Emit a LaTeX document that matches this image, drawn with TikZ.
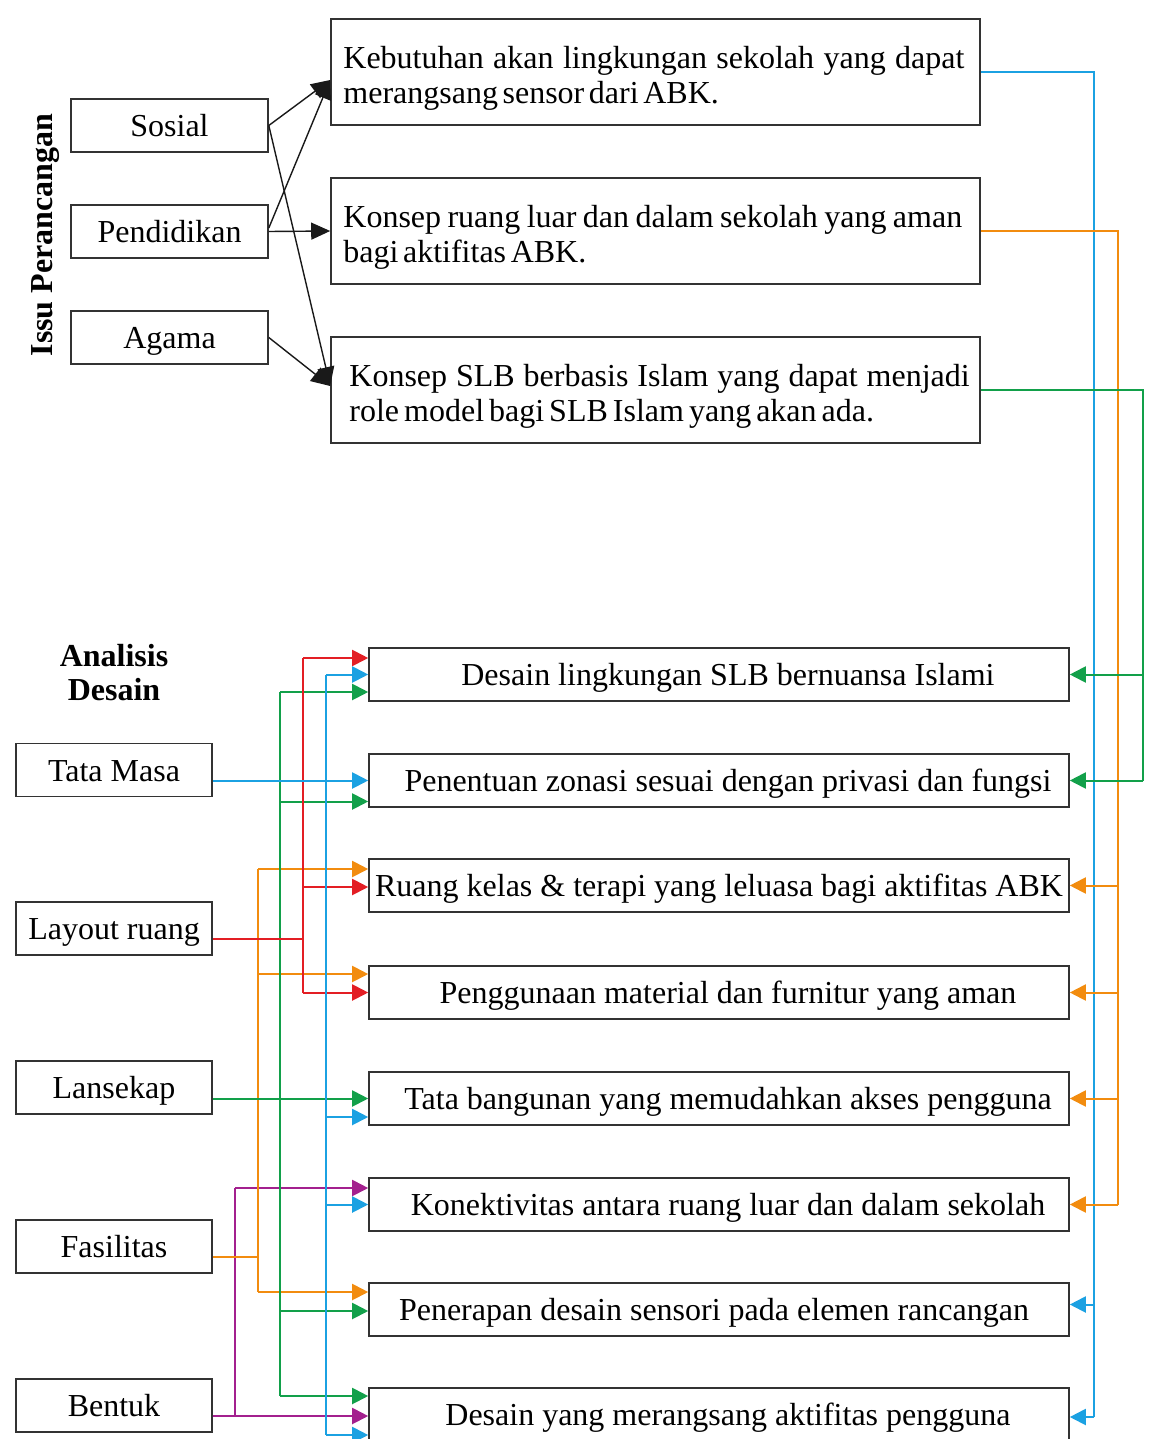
\documentclass[tikz,border=0pt]{standalone}
\usepackage{fontspec}
\setmainfont{Liberation Serif}
\usetikzlibrary{arrows.meta,calc}
\definecolor{cblue}{HTML}{1BA1E2}
\definecolor{corange}{HTML}{F28C0F}
\definecolor{cgreen}{HTML}{12A04A}
\definecolor{cred}{HTML}{E31E24}
\definecolor{cpurple}{HTML}{A3208E}
\definecolor{bord}{HTML}{333333}
\newcommand\wsp[1]{\spaceskip #1 plus 2pt minus 1pt\relax}
\newcommand\sh[1]{\hspace*{#1}}
\begin{document}
\begin{tikzpicture}[x=1pt,y=-1pt,
  box/.style={draw=bord, line width=1.6pt, inner sep=0pt, font=\fontsize{32}{35}\selectfont, text height=26pt, text depth=4pt},
  issu/.style={box, minimum width=197pt, minimum height=53pt},
  kbox/.style={draw=bord, line width=1.6pt, inner sep=0pt, minimum width=649pt, minimum height=106pt},
  ktext/.style={inner sep=0pt, anchor=west, text width=640pt, align=left, font=\fontsize{32}{35}\selectfont},
  dbox/.style={box, minimum width=700pt, minimum height=53pt},
  abox/.style={box, minimum width=196pt, minimum height=53pt},
  blk/.style={line width=1.4pt, black!90, -{Triangle[length=19pt,width=17pt]}},
  col/.style={line width=2pt, #1, -{Triangle[length=16pt,width=16pt]}},
  trunk/.style={line width=2pt, #1},
  ttl/.style={font=\bfseries\fontsize{32}{35}\selectfont, align=center},
]
\useasboundingbox (0,0) rectangle (1162,1439);
\fill[white] (0,0) rectangle (1162,1439);

% ---- Issu Perancangan ----
\node[ttl, rotate=90] (title) at (46,235) {Issu Perancangan};
\node[issu] (sos) at (169.5,125.5) {Sosial};
\node[issu] (pen) at (169.5,231.5) {Pendidikan};
\node[issu] (aga) at (169.5,337.5) {Agama};
\node[kbox] (k1) at (655.5,72) {};
\node[kbox] (k2) at (655.5,231) {};
\node[kbox] (k3) at (655.5,390) {};
\node[ktext] (k1t) at ($(k1.west)+(13,6)$) {{\wsp{9.4pt}Kebutuhan akan lingkungan sekolah yang dapat}\\{\wsp{4.6pt}merangsang sensor dari ABK.}};
\node[ktext] (k2t) at ($(k2.west)+(13,6)$) {{\wsp{6.4pt}Konsep ruang luar dan dalam sekolah yang aman}\\{\wsp{4.6pt}bagi aktifitas ABK.}};
\node[ktext] (k3t) at ($(k3.west)+(19,6)$) {{\wsp{8.9pt}Konsep SLB berbasis Islam yang dapat menjadi}\\{\wsp{5pt}role model bagi SLB Islam yang akan ada.}};

\draw[blk] (sos.east) -- ($(k1.west)+(0,8)$);
\draw[blk] ($(pen.east)+(0,-3.5)$) -- ($(k1.west)+(0,8)$);
\draw[blk] (pen.east) -- (k2.west);
\draw[blk] (sos.east) -- ($(k3.west)+(0,-4)$);
\draw[blk] (aga.east) -- ($(k3.west)+(0,-4)$);

% ---- Analisis Desain ----
\node[ttl] (ad) at (114,673) {Analisis\\[-1pt]Desain};
\node[abox] (tm) at (114,770) {Tata Masa};
\node[abox] (lr) at (114,928.5) {Layout ruang};
\node[abox] (ls) at (114,1087.5) {Lansekap};
\node[abox] (fa) at (114,1246.5) {Fasilitas};
\node[abox] (bt) at (114,1405.5) {Bentuk};

\node[dbox] (d1) at (719,674.5) {\sh{18pt}Desain lingkungan SLB bernuansa Islami};
\node[dbox] (d2) at (719,780.5) {\sh{18pt}Penentuan zonasi sesuai dengan privasi dan fungsi};
\node[dbox] (d3) at (719,885.5) {Ruang kelas \& terapi yang leluasa bagi aktifitas ABK};
\node[dbox] (d4) at (719,992.5) {\sh{18pt}Penggunaan material dan furnitur yang aman};
\node[dbox] (d5) at (719,1098.5) {\sh{18pt}Tata bangunan yang memudahkan akses pengguna};
\node[dbox] (d6) at (719,1204.5) {\sh{18pt}Konektivitas antara ruang luar dan dalam sekolah};
\node[dbox] (d7) at (719,1309.5) {\sh{-10pt}Penerapan desain sensori pada elemen rancangan};
\node[dbox] (d8) at (719,1414.5) {\sh{18pt}Desain yang merangsang aktifitas pengguna};

% trunk x positions
\coordinate (xp) at (235,0);
\coordinate (xo) at (258,0);
\coordinate (xg) at (280,0);
\coordinate (xr) at (303,0);
\coordinate (xb) at (326,0);
\coordinate (xB) at (1094,0);
\coordinate (xO) at (1118,0);
\coordinate (xG) at (1143,0);

% purple (Bentuk)
\draw[trunk=cpurple] ($(xp |- d6.west)+(0,-16.5)$) -- ($(xp |- d8.west)+(0,1.5)$);
\draw[col=cpurple] ($(xp |- d6.west)+(0,-16.5)$) -- ($(d6.west)+(0,-16.5)$);
\draw[col=cpurple] ($(bt.east |- d8.west)+(0,1.5)$) -- ($(d8.west)+(0,1.5)$);

% orange (Fasilitas)
\draw[trunk=corange] ($(fa.east)+(0,10.5)$) -- ($(xo |- fa.east)+(0,10.5)$);
\draw[trunk=corange] ($(xo |- d3.west)+(0,-16.5)$) -- ($(xo |- d7.west)+(0,-17.5)$);
\draw[col=corange] ($(xo |- d3.west)+(0,-16.5)$) -- ($(d3.west)+(0,-16.5)$);
\draw[col=corange] ($(xo |- d4.west)+(0,-18.5)$) -- ($(d4.west)+(0,-18.5)$);
\draw[col=corange] ($(xo |- d7.west)+(0,-17.5)$) -- ($(d7.west)+(0,-17.5)$);

% green (Lansekap)
\draw[trunk=cgreen] ($(xg |- d1.west)+(0,17.5)$) -- ($(xg |- d8.west)+(0,-18.5)$);
\draw[col=cgreen] ($(xg |- d1.west)+(0,17.5)$) -- ($(d1.west)+(0,17.5)$);
\draw[col=cgreen] ($(xg |- d2.west)+(0,21)$) -- ($(d2.west)+(0,21)$);
\draw[col=cgreen] (ls.east |- d5.west) -- (d5.west);
\draw[col=cgreen] ($(xg |- d7.west)+(0,1.5)$) -- ($(d7.west)+(0,1.5)$);
\draw[col=cgreen] ($(xg |- d8.west)+(0,-18.5)$) -- ($(d8.west)+(0,-18.5)$);

% red (Layout ruang)
\draw[trunk=cred] ($(lr.east)+(0,10.5)$) -- ($(xr |- lr.east)+(0,10.5)$);
\draw[trunk=cred] ($(xr |- d1.west)+(0,-16.5)$) -- (xr |- d4.west);
\draw[col=cred] ($(xr |- d1.west)+(0,-16.5)$) -- ($(d1.west)+(0,-16.5)$);
\draw[col=cred] ($(xr |- d3.west)+(0,1.5)$) -- ($(d3.west)+(0,1.5)$);
\draw[col=cred] (xr |- d4.west) -- (d4.west);

% blue (Tata Masa)
\draw[trunk=cblue] (xb |- d1.west) -- ($(xb |- d8.west)+(0,20.5)$);
\draw[col=cblue] (xb |- d1.west) -- (d1.west);
\draw[col=cblue] (tm.east |- d2.west) -- (d2.west);
\draw[col=cblue] ($(xb |- d5.west)+(0,18.5)$) -- ($(d5.west)+(0,18.5)$);
\draw[col=cblue] (xb |- d6.west) -- (d6.west);
\draw[col=cblue] ($(xb |- d8.west)+(0,20.5)$) -- ($(d8.west)+(0,20.5)$);

% right side
\draw[trunk=cblue] (k1.east) -| ($(xB |- d8.east)+(0,2.5)$);
\draw[col=cblue] ($(xB |- d7.east)+(0,-5)$) -- ($(d7.east)+(0,-5)$);
\draw[col=cblue] ($(xB |- d8.east)+(0,2.5)$) -- ($(d8.east)+(0,2.5)$);

\draw[trunk=corange] (k2.east) -| (xO |- d6.east);
\draw[col=corange] (xO |- d3.east) -- (d3.east);
\draw[col=corange] (xO |- d4.east) -- (d4.east);
\draw[col=corange] (xO |- d5.east) -- (d5.east);
\draw[col=corange] (xO |- d6.east) -- (d6.east);

\draw[trunk=cgreen] (k3.east) -| (xG |- d2.east);
\draw[col=cgreen] (xG |- d1.east) -- (d1.east);
\draw[col=cgreen] (xG |- d2.east) -- (d2.east);
\end{tikzpicture}
\end{document}
